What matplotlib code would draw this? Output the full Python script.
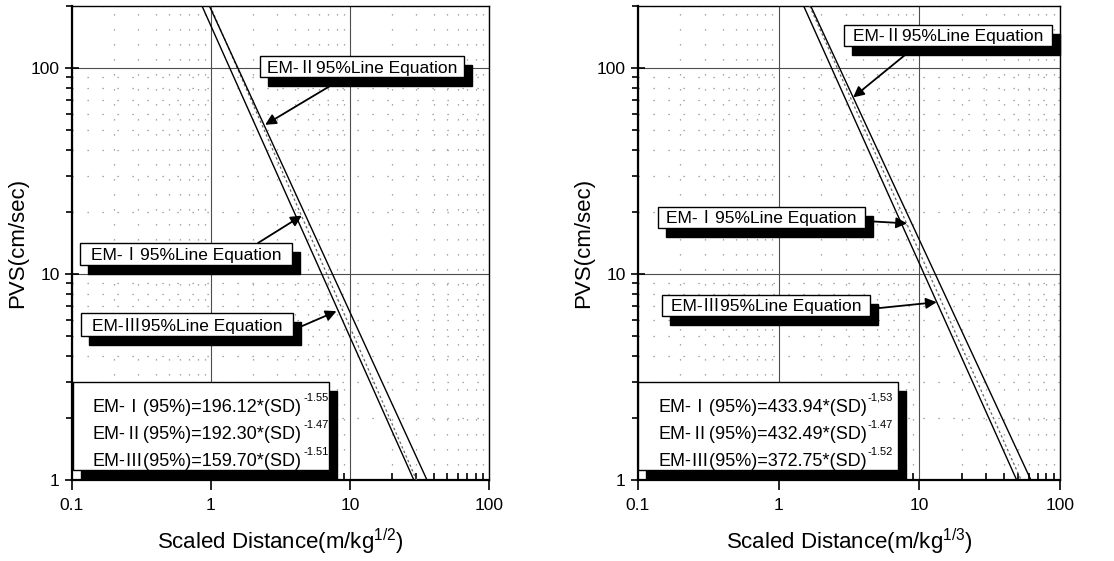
import matplotlib
matplotlib.use('Agg')
import matplotlib.pyplot as plt
from matplotlib.patches import Rectangle

plt.rcParams['font.family'] = ['Liberation Sans', 'Noto Sans CJK SC', 'DejaVu Sans']
plt.rcParams['mathtext.default'] = 'regular'

W, H = 1114, 561

# line endpoints (SD, PVS), y from 200 down to 1
left_x = {'I': [0.987, 30.1], 'II': [0.974, 35.8], 'III': [0.862, 28.8]}
right_x = {'I': [1.659, 52.9], 'II': [1.690, 62.1], 'III': [1.506, 49.2]}
pvs_range = [200, 1]

left_eq = ['EM-Ⅰ(95%)=196.12*(SD)', 'EM-Ⅱ(95%)=192.30*(SD)', 'EM-Ⅲ(95%)=159.70*(SD)']
left_exp = ['-1.55', '-1.47', '-1.51']
right_eq = ['EM-Ⅰ(95%)=433.94*(SD)', 'EM-Ⅱ(95%)=432.49*(SD)', 'EM-Ⅲ(95%)=372.75*(SD)']
right_exp = ['-1,53', '-1.47', '-1.52']

xticks = [0.1, 1, 10, 100]
xlabels = ['0.1', '1', '10', '100']
yticks = [1, 10, 100]
ylabels = ['1', '10', '100']

styles = {'I': dict(color='0.4', lw=0.9, ls=(0, (2, 2))),
          'II': dict(color='k', lw=1.0, ls='-'),
          'III': dict(color='k', lw=1.0, ls='-')}


def fx(x, y):
    return (x / W, 1 - y / H)


fig = plt.figure(figsize=(W / 100, H / 100), dpi=100)


def setup(ax, xlab):
    ax.set_xscale('log')
    ax.set_yscale('log')
    ax.set_xlim(0.1, 100)
    ax.set_ylim(1, 200)
    ax.set_xticks(xticks, xlabels)
    ax.set_yticks(yticks, ylabels)
    ax.grid(True, which='major', color='0.3', lw=0.8)
    ax.grid(True, which='minor', color='0.55', lw=0.9, ls=(0, (1, 11)))
    ax.tick_params(axis='x', which='major', direction='out', length=7, width=1.2, labelsize=12.5, pad=6)
    ax.tick_params(axis='x', which='minor', direction='in', length=5, width=1.2)
    ax.tick_params(axis='y', which='major', direction='inout', length=10, width=1.2, labelsize=12.5, pad=4)
    ax.tick_params(axis='y', which='minor', direction='out', length=4, width=1.2)
    ax.xaxis.set_minor_formatter(plt.NullFormatter())
    ax.yaxis.set_minor_formatter(plt.NullFormatter())
    for s in ['left', 'bottom']:
        ax.spines[s].set_linewidth(1.6)
    for s in ['top', 'right']:
        ax.spines[s].set_linewidth(1.0)
    ax.set_xlabel(xlab, fontsize=16, labelpad=10)
    ax.set_ylabel('PVS(cm/sec)', fontsize=16, labelpad=2)


def label_box(x0, y0, x1, y1, text, size=12.5, sh=(8, 9)):
    lx, ly = fx(x0 + sh[0], y1 + sh[1])
    fig.add_artist(Rectangle((lx, ly), (x1 - x0) / W, (y1 - y0) / H, transform=fig.transFigure,
                             facecolor='k', edgecolor='k', zorder=5))
    lx, ly = fx(x0, y1)
    fig.add_artist(Rectangle((lx, ly), (x1 - x0) / W, (y1 - y0) / H, transform=fig.transFigure,
                             facecolor='white', edgecolor='k', lw=1.0, zorder=6))
    if text:
        cx, cy = fx((x0 + x1) / 2, (y0 + y1) / 2 + 1)
        fig.text(cx, cy, text, ha='center', va='center', fontsize=size, zorder=7)


def arrow(ax, start, target):
    ax.annotate('', xy=target, xycoords='data', xytext=fx(*start), textcoords='figure fraction',
                arrowprops=dict(arrowstyle='-|>', color='k', lw=1.3, mutation_scale=16,
                                shrinkA=0, shrinkB=0), annotation_clip=False, zorder=8)


axL = fig.add_axes([72 / W, 81 / H, 417 / W, 474 / H])
axR = fig.add_axes([638 / W, 81 / H, 422 / W, 474 / H])
setup(axL, 'Scaled Distance(m/kg$^{1/2}$)')
setup(axR, 'Scaled Distance(m/kg$^{1/3}$)')

for k in ['III', 'I', 'II']:
    axL.plot(left_x[k], pvs_range, **styles[k], zorder=3)
    axR.plot(right_x[k], pvs_range, **styles[k], zorder=3)

# left panel annotations
label_box(260, 56, 464, 77, 'EM-Ⅱ95%Line Equation')
arrow(axL, (330, 86), (2.45, 53))
label_box(80, 243, 292, 265, 'EM-Ⅰ95%Line Equation')
arrow(axL, (258, 243), (4.5, 19.2))
label_box(81, 313, 293, 336, 'EM-Ⅲ95%Line Equation')
arrow(axL, (293, 330), (8.0, 6.6))
label_box(73, 382, 329, 470, None)

# right panel annotations
label_box(844, 25, 1052, 46, 'EM-Ⅱ95%Line Equation')
arrow(axR, (905, 55), (3.38, 72))
label_box(658, 207, 865, 228, 'EM-Ⅰ95%Line Equation')
arrow(axR, (865, 221), (8.17, 17.6))
label_box(662, 295, 870, 316, 'EM-Ⅲ95%Line Equation')
arrow(axR, (870, 309), (13.3, 7.3))
label_box(638, 382, 898, 470, None)

eq_texts = []
for eqs, exps, x0 in [(left_eq, left_exp, 93), (right_eq, right_exp, 658)]:
    for i, (e, p) in enumerate(zip(eqs, exps)):
        yb = 412 + i * 27
        t = fig.text(*fx(x0, yb), e, ha='left', va='baseline', fontsize=13, zorder=7)
        eq_texts.append((t, p, yb))

fig.canvas.draw()
r = fig.canvas.get_renderer()
for t, p, yb in eq_texts:
    bb = t.get_window_extent(r)
    fig.text(bb.x1 / W + 1 / W, 1 - (yb - 11) / H, p, ha='left', va='baseline', fontsize=8, zorder=7)

fig.savefig('out.png', dpi=100)
